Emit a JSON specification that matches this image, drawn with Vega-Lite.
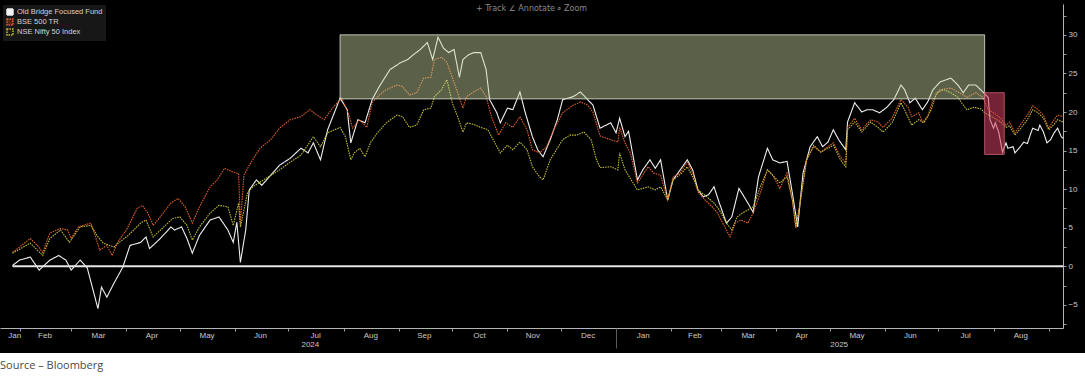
{
  "$schema": "https://vega.github.io/schema/vega-lite/v6.json",
  "background": "#000000",
  "padding": {"top": 4, "left": 0, "right": 0, "bottom": 0},
  "spacing": 0,
  "config": {"view": {"stroke": null}},
  "datasets": {
    "returns": [
{"date":"2024-01-28","series":"Old Bridge Focused Fund","value":0.1},
{"date":"2024-02-01","series":"Old Bridge Focused Fund","value":0.8},
{"date":"2024-02-07","series":"Old Bridge Focused Fund","value":1.2},
{"date":"2024-02-12","series":"Old Bridge Focused Fund","value":-0.5},
{"date":"2024-02-18","series":"Old Bridge Focused Fund","value":0.8},
{"date":"2024-02-23","series":"Old Bridge Focused Fund","value":1.4},
{"date":"2024-02-27","series":"Old Bridge Focused Fund","value":0.8},
{"date":"2024-03-01","series":"Old Bridge Focused Fund","value":-0.5},
{"date":"2024-03-06","series":"Old Bridge Focused Fund","value":0.8},
{"date":"2024-03-10","series":"Old Bridge Focused Fund","value":-0.2},
{"date":"2024-03-16","series":"Old Bridge Focused Fund","value":-5.5},
{"date":"2024-03-18","series":"Old Bridge Focused Fund","value":-2.7},
{"date":"2024-03-21","series":"Old Bridge Focused Fund","value":-4.0},
{"date":"2024-03-25","series":"Old Bridge Focused Fund","value":-2.2},
{"date":"2024-03-30","series":"Old Bridge Focused Fund","value":-0.1},
{"date":"2024-04-03","series":"Old Bridge Focused Fund","value":2.7},
{"date":"2024-04-09","series":"Old Bridge Focused Fund","value":3.1},
{"date":"2024-04-12","series":"Old Bridge Focused Fund","value":3.8},
{"date":"2024-04-14","series":"Old Bridge Focused Fund","value":2.3},
{"date":"2024-04-20","series":"Old Bridge Focused Fund","value":3.6},
{"date":"2024-04-26","series":"Old Bridge Focused Fund","value":5.1},
{"date":"2024-04-28","series":"Old Bridge Focused Fund","value":4.7},
{"date":"2024-05-02","series":"Old Bridge Focused Fund","value":5.1},
{"date":"2024-05-05","series":"Old Bridge Focused Fund","value":3.6},
{"date":"2024-05-08","series":"Old Bridge Focused Fund","value":1.7},
{"date":"2024-05-12","series":"Old Bridge Focused Fund","value":4.0},
{"date":"2024-05-18","series":"Old Bridge Focused Fund","value":6.0},
{"date":"2024-05-23","series":"Old Bridge Focused Fund","value":6.4},
{"date":"2024-05-28","series":"Old Bridge Focused Fund","value":4.7},
{"date":"2024-05-31","series":"Old Bridge Focused Fund","value":3.1},
{"date":"2024-06-02","series":"Old Bridge Focused Fund","value":5.7},
{"date":"2024-06-04","series":"Old Bridge Focused Fund","value":0.5},
{"date":"2024-06-07","series":"Old Bridge Focused Fund","value":4.7},
{"date":"2024-06-09","series":"Old Bridge Focused Fund","value":9.9},
{"date":"2024-06-13","series":"Old Bridge Focused Fund","value":11.2},
{"date":"2024-06-16","series":"Old Bridge Focused Fund","value":10.5},
{"date":"2024-06-21","series":"Old Bridge Focused Fund","value":11.8},
{"date":"2024-06-26","series":"Old Bridge Focused Fund","value":13.1},
{"date":"2024-07-02","series":"Old Bridge Focused Fund","value":14.0},
{"date":"2024-07-08","series":"Old Bridge Focused Fund","value":15.3},
{"date":"2024-07-12","series":"Old Bridge Focused Fund","value":14.7},
{"date":"2024-07-15","series":"Old Bridge Focused Fund","value":16.0},
{"date":"2024-07-19","series":"Old Bridge Focused Fund","value":13.8},
{"date":"2024-07-23","series":"Old Bridge Focused Fund","value":17.7},
{"date":"2024-07-30","series":"Old Bridge Focused Fund","value":21.8},
{"date":"2024-08-03","series":"Old Bridge Focused Fund","value":20.3},
{"date":"2024-08-05","series":"Old Bridge Focused Fund","value":16.0},
{"date":"2024-08-09","series":"Old Bridge Focused Fund","value":19.0},
{"date":"2024-08-13","series":"Old Bridge Focused Fund","value":18.6},
{"date":"2024-08-17","series":"Old Bridge Focused Fund","value":21.6},
{"date":"2024-08-21","series":"Old Bridge Focused Fund","value":23.3},
{"date":"2024-08-27","series":"Old Bridge Focused Fund","value":25.5},
{"date":"2024-09-02","series":"Old Bridge Focused Fund","value":26.4},
{"date":"2024-09-06","series":"Old Bridge Focused Fund","value":26.8},
{"date":"2024-09-09","series":"Old Bridge Focused Fund","value":27.4},
{"date":"2024-09-13","series":"Old Bridge Focused Fund","value":28.1},
{"date":"2024-09-17","series":"Old Bridge Focused Fund","value":29.0},
{"date":"2024-09-20","series":"Old Bridge Focused Fund","value":26.8},
{"date":"2024-09-23","series":"Old Bridge Focused Fund","value":29.7},
{"date":"2024-09-26","series":"Old Bridge Focused Fund","value":28.3},
{"date":"2024-09-29","series":"Old Bridge Focused Fund","value":27.7},
{"date":"2024-10-02","series":"Old Bridge Focused Fund","value":28.1},
{"date":"2024-10-05","series":"Old Bridge Focused Fund","value":24.5},
{"date":"2024-10-07","series":"Old Bridge Focused Fund","value":26.8},
{"date":"2024-10-10","series":"Old Bridge Focused Fund","value":27.4},
{"date":"2024-10-13","series":"Old Bridge Focused Fund","value":27.7},
{"date":"2024-10-17","series":"Old Bridge Focused Fund","value":27.7},
{"date":"2024-10-20","series":"Old Bridge Focused Fund","value":25.5},
{"date":"2024-10-22","series":"Old Bridge Focused Fund","value":21.6},
{"date":"2024-10-26","series":"Old Bridge Focused Fund","value":19.9},
{"date":"2024-10-28","series":"Old Bridge Focused Fund","value":18.6},
{"date":"2024-11-01","series":"Old Bridge Focused Fund","value":20.5},
{"date":"2024-11-04","series":"Old Bridge Focused Fund","value":20.3},
{"date":"2024-11-08","series":"Old Bridge Focused Fund","value":22.6},
{"date":"2024-11-11","series":"Old Bridge Focused Fund","value":19.9},
{"date":"2024-11-15","series":"Old Bridge Focused Fund","value":16.8},
{"date":"2024-11-18","series":"Old Bridge Focused Fund","value":15.1},
{"date":"2024-11-21","series":"Old Bridge Focused Fund","value":14.2},
{"date":"2024-11-25","series":"Old Bridge Focused Fund","value":16.4},
{"date":"2024-11-29","series":"Old Bridge Focused Fund","value":19.0},
{"date":"2024-12-02","series":"Old Bridge Focused Fund","value":21.6},
{"date":"2024-12-08","series":"Old Bridge Focused Fund","value":22.0},
{"date":"2024-12-12","series":"Old Bridge Focused Fund","value":22.6},
{"date":"2024-12-16","series":"Old Bridge Focused Fund","value":21.6},
{"date":"2024-12-19","series":"Old Bridge Focused Fund","value":20.9},
{"date":"2024-12-23","series":"Old Bridge Focused Fund","value":17.9},
{"date":"2024-12-29","series":"Old Bridge Focused Fund","value":18.6},
{"date":"2025-01-01","series":"Old Bridge Focused Fund","value":17.3},
{"date":"2025-01-03","series":"Old Bridge Focused Fund","value":19.2},
{"date":"2025-01-06","series":"Old Bridge Focused Fund","value":16.8},
{"date":"2025-01-08","series":"Old Bridge Focused Fund","value":17.5},
{"date":"2025-01-13","series":"Old Bridge Focused Fund","value":11.2},
{"date":"2025-01-16","series":"Old Bridge Focused Fund","value":12.5},
{"date":"2025-01-20","series":"Old Bridge Focused Fund","value":13.8},
{"date":"2025-01-23","series":"Old Bridge Focused Fund","value":12.7},
{"date":"2025-01-26","series":"Old Bridge Focused Fund","value":13.8},
{"date":"2025-01-30","series":"Old Bridge Focused Fund","value":8.6},
{"date":"2025-02-02","series":"Old Bridge Focused Fund","value":11.2},
{"date":"2025-02-06","series":"Old Bridge Focused Fund","value":12.5},
{"date":"2025-02-10","series":"Old Bridge Focused Fund","value":13.8},
{"date":"2025-02-13","series":"Old Bridge Focused Fund","value":12.5},
{"date":"2025-02-16","series":"Old Bridge Focused Fund","value":9.9},
{"date":"2025-02-19","series":"Old Bridge Focused Fund","value":9.0},
{"date":"2025-02-22","series":"Old Bridge Focused Fund","value":9.3},
{"date":"2025-02-25","series":"Old Bridge Focused Fund","value":10.3},
{"date":"2025-02-28","series":"Old Bridge Focused Fund","value":8.2},
{"date":"2025-03-04","series":"Old Bridge Focused Fund","value":5.6},
{"date":"2025-03-07","series":"Old Bridge Focused Fund","value":6.4},
{"date":"2025-03-11","series":"Old Bridge Focused Fund","value":10.1},
{"date":"2025-03-15","series":"Old Bridge Focused Fund","value":8.6},
{"date":"2025-03-19","series":"Old Bridge Focused Fund","value":7.0},
{"date":"2025-03-22","series":"Old Bridge Focused Fund","value":11.6},
{"date":"2025-03-27","series":"Old Bridge Focused Fund","value":15.3},
{"date":"2025-03-30","series":"Old Bridge Focused Fund","value":13.8},
{"date":"2025-04-03","series":"Old Bridge Focused Fund","value":13.4},
{"date":"2025-04-07","series":"Old Bridge Focused Fund","value":13.6},
{"date":"2025-04-10","series":"Old Bridge Focused Fund","value":9.5},
{"date":"2025-04-13","series":"Old Bridge Focused Fund","value":5.1},
{"date":"2025-04-16","series":"Old Bridge Focused Fund","value":12.1},
{"date":"2025-04-20","series":"Old Bridge Focused Fund","value":15.5},
{"date":"2025-04-24","series":"Old Bridge Focused Fund","value":16.8},
{"date":"2025-04-27","series":"Old Bridge Focused Fund","value":15.5},
{"date":"2025-04-30","series":"Old Bridge Focused Fund","value":16.1},
{"date":"2025-05-03","series":"Old Bridge Focused Fund","value":17.7},
{"date":"2025-05-06","series":"Old Bridge Focused Fund","value":16.4},
{"date":"2025-05-10","series":"Old Bridge Focused Fund","value":15.1},
{"date":"2025-05-11","series":"Old Bridge Focused Fund","value":18.7},
{"date":"2025-05-15","series":"Old Bridge Focused Fund","value":21.2},
{"date":"2025-05-19","series":"Old Bridge Focused Fund","value":20.0},
{"date":"2025-05-22","series":"Old Bridge Focused Fund","value":20.3},
{"date":"2025-05-25","series":"Old Bridge Focused Fund","value":20.3},
{"date":"2025-05-29","series":"Old Bridge Focused Fund","value":19.9},
{"date":"2025-06-02","series":"Old Bridge Focused Fund","value":20.6},
{"date":"2025-06-06","series":"Old Bridge Focused Fund","value":21.6},
{"date":"2025-06-10","series":"Old Bridge Focused Fund","value":23.5},
{"date":"2025-06-12","series":"Old Bridge Focused Fund","value":22.9},
{"date":"2025-06-15","series":"Old Bridge Focused Fund","value":21.2},
{"date":"2025-06-18","series":"Old Bridge Focused Fund","value":21.8},
{"date":"2025-06-22","series":"Old Bridge Focused Fund","value":20.3},
{"date":"2025-06-25","series":"Old Bridge Focused Fund","value":21.3},
{"date":"2025-06-28","series":"Old Bridge Focused Fund","value":22.9},
{"date":"2025-07-02","series":"Old Bridge Focused Fund","value":23.9},
{"date":"2025-07-08","series":"Old Bridge Focused Fund","value":24.4},
{"date":"2025-07-12","series":"Old Bridge Focused Fund","value":23.5},
{"date":"2025-07-15","series":"Old Bridge Focused Fund","value":22.5},
{"date":"2025-07-18","series":"Old Bridge Focused Fund","value":23.5},
{"date":"2025-07-22","series":"Old Bridge Focused Fund","value":23.5},
{"date":"2025-07-26","series":"Old Bridge Focused Fund","value":22.6},
{"date":"2025-07-29","series":"Old Bridge Focused Fund","value":21.9},
{"date":"2025-07-30","series":"Old Bridge Focused Fund","value":19.0},
{"date":"2025-08-01","series":"Old Bridge Focused Fund","value":17.9},
{"date":"2025-08-02","series":"Old Bridge Focused Fund","value":18.6},
{"date":"2025-08-04","series":"Old Bridge Focused Fund","value":17.3},
{"date":"2025-08-06","series":"Old Bridge Focused Fund","value":14.8},
{"date":"2025-08-08","series":"Old Bridge Focused Fund","value":16.0},
{"date":"2025-08-09","series":"Old Bridge Focused Fund","value":15.3},
{"date":"2025-08-12","series":"Old Bridge Focused Fund","value":15.5},
{"date":"2025-08-13","series":"Old Bridge Focused Fund","value":14.7},
{"date":"2025-08-16","series":"Old Bridge Focused Fund","value":15.5},
{"date":"2025-08-18","series":"Old Bridge Focused Fund","value":16.1},
{"date":"2025-08-20","series":"Old Bridge Focused Fund","value":15.9},
{"date":"2025-08-22","series":"Old Bridge Focused Fund","value":17.3},
{"date":"2025-08-23","series":"Old Bridge Focused Fund","value":17.9},
{"date":"2025-08-26","series":"Old Bridge Focused Fund","value":17.6},
{"date":"2025-08-27","series":"Old Bridge Focused Fund","value":18.3},
{"date":"2025-08-29","series":"Old Bridge Focused Fund","value":17.4},
{"date":"2025-08-31","series":"Old Bridge Focused Fund","value":16.0},
{"date":"2025-09-02","series":"Old Bridge Focused Fund","value":16.4},
{"date":"2025-09-04","series":"Old Bridge Focused Fund","value":17.3},
{"date":"2025-09-06","series":"Old Bridge Focused Fund","value":17.9},
{"date":"2025-09-08","series":"Old Bridge Focused Fund","value":16.8},
{"date":"2025-09-09","series":"Old Bridge Focused Fund","value":16.6},
{"date":"2024-01-28","series":"BSE 500 TR","value":1.8},
{"date":"2024-02-01","series":"BSE 500 TR","value":2.5},
{"date":"2024-02-07","series":"BSE 500 TR","value":3.6},
{"date":"2024-02-11","series":"BSE 500 TR","value":2.7},
{"date":"2024-02-14","series":"BSE 500 TR","value":1.8},
{"date":"2024-02-18","series":"BSE 500 TR","value":4.3},
{"date":"2024-02-24","series":"BSE 500 TR","value":4.9},
{"date":"2024-02-28","series":"BSE 500 TR","value":4.7},
{"date":"2024-03-01","series":"BSE 500 TR","value":3.6},
{"date":"2024-03-05","series":"BSE 500 TR","value":5.1},
{"date":"2024-03-12","series":"BSE 500 TR","value":5.6},
{"date":"2024-03-14","series":"BSE 500 TR","value":4.3},
{"date":"2024-03-17","series":"BSE 500 TR","value":2.1},
{"date":"2024-03-21","series":"BSE 500 TR","value":2.7},
{"date":"2024-03-24","series":"BSE 500 TR","value":1.4},
{"date":"2024-03-27","series":"BSE 500 TR","value":3.1},
{"date":"2024-04-01","series":"BSE 500 TR","value":4.7},
{"date":"2024-04-07","series":"BSE 500 TR","value":7.5},
{"date":"2024-04-10","series":"BSE 500 TR","value":7.9},
{"date":"2024-04-13","series":"BSE 500 TR","value":6.9},
{"date":"2024-04-16","series":"BSE 500 TR","value":5.3},
{"date":"2024-04-20","series":"BSE 500 TR","value":6.4},
{"date":"2024-04-26","series":"BSE 500 TR","value":8.2},
{"date":"2024-04-30","series":"BSE 500 TR","value":8.8},
{"date":"2024-05-04","series":"BSE 500 TR","value":7.7},
{"date":"2024-05-08","series":"BSE 500 TR","value":5.6},
{"date":"2024-05-12","series":"BSE 500 TR","value":7.7},
{"date":"2024-05-18","series":"BSE 500 TR","value":10.3},
{"date":"2024-05-22","series":"BSE 500 TR","value":11.2},
{"date":"2024-05-26","series":"BSE 500 TR","value":12.7},
{"date":"2024-05-31","series":"BSE 500 TR","value":12.2},
{"date":"2024-06-03","series":"BSE 500 TR","value":12.0},
{"date":"2024-06-04","series":"BSE 500 TR","value":5.6},
{"date":"2024-06-06","series":"BSE 500 TR","value":11.8},
{"date":"2024-06-09","series":"BSE 500 TR","value":13.1},
{"date":"2024-06-15","series":"BSE 500 TR","value":15.3},
{"date":"2024-06-21","series":"BSE 500 TR","value":16.4},
{"date":"2024-06-26","series":"BSE 500 TR","value":17.9},
{"date":"2024-07-02","series":"BSE 500 TR","value":19.0},
{"date":"2024-07-08","series":"BSE 500 TR","value":19.4},
{"date":"2024-07-13","series":"BSE 500 TR","value":20.3},
{"date":"2024-07-17","series":"BSE 500 TR","value":19.6},
{"date":"2024-07-21","series":"BSE 500 TR","value":19.0},
{"date":"2024-07-26","series":"BSE 500 TR","value":20.6},
{"date":"2024-07-31","series":"BSE 500 TR","value":21.8},
{"date":"2024-08-04","series":"BSE 500 TR","value":19.6},
{"date":"2024-08-06","series":"BSE 500 TR","value":17.9},
{"date":"2024-08-10","series":"BSE 500 TR","value":19.0},
{"date":"2024-08-14","series":"BSE 500 TR","value":18.0},
{"date":"2024-08-17","series":"BSE 500 TR","value":21.2},
{"date":"2024-08-21","series":"BSE 500 TR","value":22.2},
{"date":"2024-08-25","series":"BSE 500 TR","value":22.9},
{"date":"2024-08-31","series":"BSE 500 TR","value":23.5},
{"date":"2024-09-03","series":"BSE 500 TR","value":23.3},
{"date":"2024-09-07","series":"BSE 500 TR","value":22.2},
{"date":"2024-09-11","series":"BSE 500 TR","value":22.5},
{"date":"2024-09-15","series":"BSE 500 TR","value":24.4},
{"date":"2024-09-19","series":"BSE 500 TR","value":24.5},
{"date":"2024-09-21","series":"BSE 500 TR","value":26.8},
{"date":"2024-09-25","series":"BSE 500 TR","value":27.1},
{"date":"2024-09-28","series":"BSE 500 TR","value":26.4},
{"date":"2024-10-01","series":"BSE 500 TR","value":24.5},
{"date":"2024-10-04","series":"BSE 500 TR","value":22.5},
{"date":"2024-10-07","series":"BSE 500 TR","value":20.5},
{"date":"2024-10-09","series":"BSE 500 TR","value":22.0},
{"date":"2024-10-13","series":"BSE 500 TR","value":22.6},
{"date":"2024-10-17","series":"BSE 500 TR","value":23.1},
{"date":"2024-10-20","series":"BSE 500 TR","value":22.0},
{"date":"2024-10-23","series":"BSE 500 TR","value":19.4},
{"date":"2024-10-27","series":"BSE 500 TR","value":17.0},
{"date":"2024-10-31","series":"BSE 500 TR","value":18.6},
{"date":"2024-11-04","series":"BSE 500 TR","value":18.0},
{"date":"2024-11-08","series":"BSE 500 TR","value":19.4},
{"date":"2024-11-12","series":"BSE 500 TR","value":17.7},
{"date":"2024-11-15","series":"BSE 500 TR","value":15.1},
{"date":"2024-11-19","series":"BSE 500 TR","value":14.7},
{"date":"2024-11-23","series":"BSE 500 TR","value":15.5},
{"date":"2024-11-27","series":"BSE 500 TR","value":17.7},
{"date":"2024-12-02","series":"BSE 500 TR","value":19.9},
{"date":"2024-12-08","series":"BSE 500 TR","value":20.9},
{"date":"2024-12-12","series":"BSE 500 TR","value":21.3},
{"date":"2024-12-16","series":"BSE 500 TR","value":20.9},
{"date":"2024-12-19","series":"BSE 500 TR","value":20.0},
{"date":"2024-12-23","series":"BSE 500 TR","value":16.9},
{"date":"2024-12-29","series":"BSE 500 TR","value":16.4},
{"date":"2025-01-02","series":"BSE 500 TR","value":16.1},
{"date":"2025-01-03","series":"BSE 500 TR","value":18.0},
{"date":"2025-01-06","series":"BSE 500 TR","value":16.0},
{"date":"2025-01-09","series":"BSE 500 TR","value":14.7},
{"date":"2025-01-13","series":"BSE 500 TR","value":10.8},
{"date":"2025-01-19","series":"BSE 500 TR","value":12.9},
{"date":"2025-01-22","series":"BSE 500 TR","value":12.1},
{"date":"2025-01-26","series":"BSE 500 TR","value":11.8},
{"date":"2025-01-30","series":"BSE 500 TR","value":8.6},
{"date":"2025-02-02","series":"BSE 500 TR","value":11.6},
{"date":"2025-02-06","series":"BSE 500 TR","value":12.1},
{"date":"2025-02-10","series":"BSE 500 TR","value":13.5},
{"date":"2025-02-13","series":"BSE 500 TR","value":12.1},
{"date":"2025-02-16","series":"BSE 500 TR","value":9.6},
{"date":"2025-02-20","series":"BSE 500 TR","value":8.6},
{"date":"2025-02-24","series":"BSE 500 TR","value":7.7},
{"date":"2025-02-27","series":"BSE 500 TR","value":6.9},
{"date":"2025-03-03","series":"BSE 500 TR","value":5.1},
{"date":"2025-03-06","series":"BSE 500 TR","value":3.8},
{"date":"2025-03-09","series":"BSE 500 TR","value":5.6},
{"date":"2025-03-12","series":"BSE 500 TR","value":6.0},
{"date":"2025-03-16","series":"BSE 500 TR","value":5.6},
{"date":"2025-03-19","series":"BSE 500 TR","value":6.9},
{"date":"2025-03-23","series":"BSE 500 TR","value":9.5},
{"date":"2025-03-27","series":"BSE 500 TR","value":12.5},
{"date":"2025-03-30","series":"BSE 500 TR","value":11.8},
{"date":"2025-04-03","series":"BSE 500 TR","value":10.1},
{"date":"2025-04-07","series":"BSE 500 TR","value":12.1},
{"date":"2025-04-10","series":"BSE 500 TR","value":8.6},
{"date":"2025-04-12","series":"BSE 500 TR","value":4.9},
{"date":"2025-04-14","series":"BSE 500 TR","value":7.7},
{"date":"2025-04-18","series":"BSE 500 TR","value":13.8},
{"date":"2025-04-22","series":"BSE 500 TR","value":15.5},
{"date":"2025-04-26","series":"BSE 500 TR","value":14.8},
{"date":"2025-04-30","series":"BSE 500 TR","value":15.5},
{"date":"2025-05-03","series":"BSE 500 TR","value":16.0},
{"date":"2025-05-07","series":"BSE 500 TR","value":14.2},
{"date":"2025-05-10","series":"BSE 500 TR","value":13.4},
{"date":"2025-05-11","series":"BSE 500 TR","value":18.0},
{"date":"2025-05-15","series":"BSE 500 TR","value":19.2},
{"date":"2025-05-19","series":"BSE 500 TR","value":17.7},
{"date":"2025-05-24","series":"BSE 500 TR","value":19.0},
{"date":"2025-05-28","series":"BSE 500 TR","value":18.7},
{"date":"2025-05-31","series":"BSE 500 TR","value":18.0},
{"date":"2025-06-05","series":"BSE 500 TR","value":19.2},
{"date":"2025-06-10","series":"BSE 500 TR","value":21.6},
{"date":"2025-06-14","series":"BSE 500 TR","value":20.6},
{"date":"2025-06-16","series":"BSE 500 TR","value":19.4},
{"date":"2025-06-20","series":"BSE 500 TR","value":19.9},
{"date":"2025-06-22","series":"BSE 500 TR","value":18.7},
{"date":"2025-06-25","series":"BSE 500 TR","value":19.4},
{"date":"2025-06-28","series":"BSE 500 TR","value":21.6},
{"date":"2025-07-02","series":"BSE 500 TR","value":22.9},
{"date":"2025-07-08","series":"BSE 500 TR","value":23.1},
{"date":"2025-07-12","series":"BSE 500 TR","value":22.6},
{"date":"2025-07-17","series":"BSE 500 TR","value":21.9},
{"date":"2025-07-22","series":"BSE 500 TR","value":22.5},
{"date":"2025-07-26","series":"BSE 500 TR","value":21.9},
{"date":"2025-07-29","series":"BSE 500 TR","value":20.3},
{"date":"2025-08-01","series":"BSE 500 TR","value":19.9},
{"date":"2025-08-05","series":"BSE 500 TR","value":19.2},
{"date":"2025-08-08","series":"BSE 500 TR","value":18.3},
{"date":"2025-08-10","series":"BSE 500 TR","value":18.7},
{"date":"2025-08-13","series":"BSE 500 TR","value":17.3},
{"date":"2025-08-16","series":"BSE 500 TR","value":18.3},
{"date":"2025-08-20","series":"BSE 500 TR","value":19.6},
{"date":"2025-08-23","series":"BSE 500 TR","value":20.8},
{"date":"2025-08-26","series":"BSE 500 TR","value":20.3},
{"date":"2025-08-29","series":"BSE 500 TR","value":19.6},
{"date":"2025-09-01","series":"BSE 500 TR","value":17.9},
{"date":"2025-09-04","series":"BSE 500 TR","value":19.0},
{"date":"2025-09-06","series":"BSE 500 TR","value":19.6},
{"date":"2025-09-09","series":"BSE 500 TR","value":19.4},
{"date":"2024-01-28","series":"NSE Nifty 50 Index","value":1.7},
{"date":"2024-02-07","series":"NSE Nifty 50 Index","value":3.0},
{"date":"2024-02-14","series":"NSE Nifty 50 Index","value":1.4},
{"date":"2024-02-18","series":"NSE Nifty 50 Index","value":3.6},
{"date":"2024-02-24","series":"NSE Nifty 50 Index","value":4.7},
{"date":"2024-02-29","series":"NSE Nifty 50 Index","value":3.1},
{"date":"2024-03-06","series":"NSE Nifty 50 Index","value":5.1},
{"date":"2024-03-12","series":"NSE Nifty 50 Index","value":5.3},
{"date":"2024-03-16","series":"NSE Nifty 50 Index","value":3.8},
{"date":"2024-03-19","series":"NSE Nifty 50 Index","value":3.0},
{"date":"2024-03-25","series":"NSE Nifty 50 Index","value":2.5},
{"date":"2024-03-28","series":"NSE Nifty 50 Index","value":3.1},
{"date":"2024-04-02","series":"NSE Nifty 50 Index","value":4.0},
{"date":"2024-04-09","series":"NSE Nifty 50 Index","value":5.6},
{"date":"2024-04-12","series":"NSE Nifty 50 Index","value":6.0},
{"date":"2024-04-16","series":"NSE Nifty 50 Index","value":3.8},
{"date":"2024-04-22","series":"NSE Nifty 50 Index","value":5.1},
{"date":"2024-04-27","series":"NSE Nifty 50 Index","value":6.2},
{"date":"2024-05-01","series":"NSE Nifty 50 Index","value":6.4},
{"date":"2024-05-05","series":"NSE Nifty 50 Index","value":5.3},
{"date":"2024-05-08","series":"NSE Nifty 50 Index","value":3.4},
{"date":"2024-05-12","series":"NSE Nifty 50 Index","value":5.1},
{"date":"2024-05-18","series":"NSE Nifty 50 Index","value":6.9},
{"date":"2024-05-23","series":"NSE Nifty 50 Index","value":7.9},
{"date":"2024-05-28","series":"NSE Nifty 50 Index","value":7.7},
{"date":"2024-05-31","series":"NSE Nifty 50 Index","value":5.3},
{"date":"2024-06-03","series":"NSE Nifty 50 Index","value":8.2},
{"date":"2024-06-04","series":"NSE Nifty 50 Index","value":5.1},
{"date":"2024-06-08","series":"NSE Nifty 50 Index","value":9.5},
{"date":"2024-06-11","series":"NSE Nifty 50 Index","value":10.3},
{"date":"2024-06-17","series":"NSE Nifty 50 Index","value":11.2},
{"date":"2024-06-26","series":"NSE Nifty 50 Index","value":12.5},
{"date":"2024-07-02","series":"NSE Nifty 50 Index","value":13.5},
{"date":"2024-07-08","series":"NSE Nifty 50 Index","value":14.4},
{"date":"2024-07-15","series":"NSE Nifty 50 Index","value":16.8},
{"date":"2024-07-19","series":"NSE Nifty 50 Index","value":15.5},
{"date":"2024-07-23","series":"NSE Nifty 50 Index","value":17.3},
{"date":"2024-07-30","series":"NSE Nifty 50 Index","value":18.0},
{"date":"2024-08-02","series":"NSE Nifty 50 Index","value":16.8},
{"date":"2024-08-05","series":"NSE Nifty 50 Index","value":13.8},
{"date":"2024-08-07","series":"NSE Nifty 50 Index","value":14.7},
{"date":"2024-08-10","series":"NSE Nifty 50 Index","value":15.3},
{"date":"2024-08-13","series":"NSE Nifty 50 Index","value":14.2},
{"date":"2024-08-16","series":"NSE Nifty 50 Index","value":16.0},
{"date":"2024-08-20","series":"NSE Nifty 50 Index","value":17.3},
{"date":"2024-08-25","series":"NSE Nifty 50 Index","value":18.6},
{"date":"2024-08-31","series":"NSE Nifty 50 Index","value":19.6},
{"date":"2024-09-03","series":"NSE Nifty 50 Index","value":19.4},
{"date":"2024-09-07","series":"NSE Nifty 50 Index","value":18.0},
{"date":"2024-09-11","series":"NSE Nifty 50 Index","value":18.3},
{"date":"2024-09-15","series":"NSE Nifty 50 Index","value":20.3},
{"date":"2024-09-19","series":"NSE Nifty 50 Index","value":20.5},
{"date":"2024-09-21","series":"NSE Nifty 50 Index","value":22.0},
{"date":"2024-09-25","series":"NSE Nifty 50 Index","value":22.9},
{"date":"2024-09-28","series":"NSE Nifty 50 Index","value":24.2},
{"date":"2024-10-01","series":"NSE Nifty 50 Index","value":21.2},
{"date":"2024-10-04","series":"NSE Nifty 50 Index","value":19.4},
{"date":"2024-10-07","series":"NSE Nifty 50 Index","value":17.4},
{"date":"2024-10-09","series":"NSE Nifty 50 Index","value":18.6},
{"date":"2024-10-13","series":"NSE Nifty 50 Index","value":18.4},
{"date":"2024-10-17","series":"NSE Nifty 50 Index","value":18.0},
{"date":"2024-10-21","series":"NSE Nifty 50 Index","value":17.7},
{"date":"2024-10-24","series":"NSE Nifty 50 Index","value":16.4},
{"date":"2024-10-28","series":"NSE Nifty 50 Index","value":14.7},
{"date":"2024-11-01","series":"NSE Nifty 50 Index","value":15.7},
{"date":"2024-11-04","series":"NSE Nifty 50 Index","value":15.1},
{"date":"2024-11-08","series":"NSE Nifty 50 Index","value":16.1},
{"date":"2024-11-12","series":"NSE Nifty 50 Index","value":15.1},
{"date":"2024-11-15","series":"NSE Nifty 50 Index","value":12.9},
{"date":"2024-11-19","series":"NSE Nifty 50 Index","value":11.6},
{"date":"2024-11-21","series":"NSE Nifty 50 Index","value":11.2},
{"date":"2024-11-25","series":"NSE Nifty 50 Index","value":13.8},
{"date":"2024-11-29","series":"NSE Nifty 50 Index","value":15.3},
{"date":"2024-12-02","series":"NSE Nifty 50 Index","value":16.4},
{"date":"2024-12-06","series":"NSE Nifty 50 Index","value":17.0},
{"date":"2024-12-10","series":"NSE Nifty 50 Index","value":17.0},
{"date":"2024-12-14","series":"NSE Nifty 50 Index","value":17.4},
{"date":"2024-12-18","series":"NSE Nifty 50 Index","value":16.4},
{"date":"2024-12-21","series":"NSE Nifty 50 Index","value":13.8},
{"date":"2024-12-23","series":"NSE Nifty 50 Index","value":12.8},
{"date":"2024-12-29","series":"NSE Nifty 50 Index","value":12.9},
{"date":"2025-01-02","series":"NSE Nifty 50 Index","value":12.5},
{"date":"2025-01-03","series":"NSE Nifty 50 Index","value":14.7},
{"date":"2025-01-06","series":"NSE Nifty 50 Index","value":12.5},
{"date":"2025-01-13","series":"NSE Nifty 50 Index","value":9.9},
{"date":"2025-01-19","series":"NSE Nifty 50 Index","value":10.3},
{"date":"2025-01-23","series":"NSE Nifty 50 Index","value":9.9},
{"date":"2025-01-26","series":"NSE Nifty 50 Index","value":10.3},
{"date":"2025-01-30","series":"NSE Nifty 50 Index","value":8.6},
{"date":"2025-02-02","series":"NSE Nifty 50 Index","value":11.2},
{"date":"2025-02-07","series":"NSE Nifty 50 Index","value":12.1},
{"date":"2025-02-10","series":"NSE Nifty 50 Index","value":12.9},
{"date":"2025-02-13","series":"NSE Nifty 50 Index","value":11.6},
{"date":"2025-02-16","series":"NSE Nifty 50 Index","value":9.9},
{"date":"2025-02-21","series":"NSE Nifty 50 Index","value":9.0},
{"date":"2025-02-25","series":"NSE Nifty 50 Index","value":8.2},
{"date":"2025-02-28","series":"NSE Nifty 50 Index","value":7.3},
{"date":"2025-03-04","series":"NSE Nifty 50 Index","value":5.6},
{"date":"2025-03-07","series":"NSE Nifty 50 Index","value":4.7},
{"date":"2025-03-10","series":"NSE Nifty 50 Index","value":6.4},
{"date":"2025-03-13","series":"NSE Nifty 50 Index","value":6.9},
{"date":"2025-03-16","series":"NSE Nifty 50 Index","value":7.3},
{"date":"2025-03-19","series":"NSE Nifty 50 Index","value":7.7},
{"date":"2025-03-23","series":"NSE Nifty 50 Index","value":10.3},
{"date":"2025-03-27","series":"NSE Nifty 50 Index","value":12.5},
{"date":"2025-03-30","series":"NSE Nifty 50 Index","value":11.8},
{"date":"2025-04-03","series":"NSE Nifty 50 Index","value":10.8},
{"date":"2025-04-07","series":"NSE Nifty 50 Index","value":11.6},
{"date":"2025-04-10","series":"NSE Nifty 50 Index","value":8.6},
{"date":"2025-04-12","series":"NSE Nifty 50 Index","value":5.1},
{"date":"2025-04-14","series":"NSE Nifty 50 Index","value":7.7},
{"date":"2025-04-18","series":"NSE Nifty 50 Index","value":13.8},
{"date":"2025-04-22","series":"NSE Nifty 50 Index","value":15.7},
{"date":"2025-04-26","series":"NSE Nifty 50 Index","value":14.8},
{"date":"2025-04-30","series":"NSE Nifty 50 Index","value":15.3},
{"date":"2025-05-03","series":"NSE Nifty 50 Index","value":15.7},
{"date":"2025-05-07","series":"NSE Nifty 50 Index","value":13.8},
{"date":"2025-05-10","series":"NSE Nifty 50 Index","value":12.9},
{"date":"2025-05-11","series":"NSE Nifty 50 Index","value":17.7},
{"date":"2025-05-15","series":"NSE Nifty 50 Index","value":18.7},
{"date":"2025-05-19","series":"NSE Nifty 50 Index","value":17.4},
{"date":"2025-05-24","series":"NSE Nifty 50 Index","value":18.7},
{"date":"2025-05-28","series":"NSE Nifty 50 Index","value":18.0},
{"date":"2025-05-31","series":"NSE Nifty 50 Index","value":17.4},
{"date":"2025-06-05","series":"NSE Nifty 50 Index","value":18.6},
{"date":"2025-06-10","series":"NSE Nifty 50 Index","value":21.2},
{"date":"2025-06-12","series":"NSE Nifty 50 Index","value":20.3},
{"date":"2025-06-16","series":"NSE Nifty 50 Index","value":18.3},
{"date":"2025-06-20","series":"NSE Nifty 50 Index","value":19.0},
{"date":"2025-06-23","series":"NSE Nifty 50 Index","value":18.6},
{"date":"2025-06-27","series":"NSE Nifty 50 Index","value":20.3},
{"date":"2025-06-30","series":"NSE Nifty 50 Index","value":22.5},
{"date":"2025-07-04","series":"NSE Nifty 50 Index","value":22.9},
{"date":"2025-07-08","series":"NSE Nifty 50 Index","value":22.5},
{"date":"2025-07-12","series":"NSE Nifty 50 Index","value":21.9},
{"date":"2025-07-14","series":"NSE Nifty 50 Index","value":21.2},
{"date":"2025-07-17","series":"NSE Nifty 50 Index","value":20.3},
{"date":"2025-07-21","series":"NSE Nifty 50 Index","value":20.6},
{"date":"2025-07-25","series":"NSE Nifty 50 Index","value":20.4},
{"date":"2025-07-27","series":"NSE Nifty 50 Index","value":19.9},
{"date":"2025-07-31","series":"NSE Nifty 50 Index","value":19.4},
{"date":"2025-08-05","series":"NSE Nifty 50 Index","value":18.7},
{"date":"2025-08-08","series":"NSE Nifty 50 Index","value":18.0},
{"date":"2025-08-10","series":"NSE Nifty 50 Index","value":18.2},
{"date":"2025-08-13","series":"NSE Nifty 50 Index","value":17.0},
{"date":"2025-08-16","series":"NSE Nifty 50 Index","value":17.8},
{"date":"2025-08-20","series":"NSE Nifty 50 Index","value":19.0},
{"date":"2025-08-23","series":"NSE Nifty 50 Index","value":20.3},
{"date":"2025-08-26","series":"NSE Nifty 50 Index","value":19.9},
{"date":"2025-08-29","series":"NSE Nifty 50 Index","value":19.2},
{"date":"2025-09-01","series":"NSE Nifty 50 Index","value":17.7},
{"date":"2025-09-04","series":"NSE Nifty 50 Index","value":18.4},
{"date":"2025-09-06","series":"NSE Nifty 50 Index","value":19.0},
{"date":"2025-09-09","series":"NSE Nifty 50 Index","value":18.7}
    ]
  },
  "vconcat": [
    {
      "width": 1063,
      "height": 324,
      "title": {"text": "+ Track    ∠ Annotate    ⌕ Zoom", "orient": "top", "anchor": "middle", "offset": -9, "fontSize": 8, "font": "DejaVu Sans", "fontWeight": "normal", "color": "#8a8a8a"},
      "layer": [
        {
          "data": {"name": "returns"},
          "mark": {"type": "line", "strokeWidth": 1.1, "interpolate": "linear"},
          "encoding": {
            "x": {
              "field": "date", "type": "temporal",
              "scale": {"type": "utc", "domain": [{"year": 2024, "month": 1, "date": 21, "utc": true}, {"year": 2025, "month": 9, "date": 9, "utc": true}]},
              "axis": {
                "orient": "bottom", "title": null, "labels": false, "grid": false,
                "values": [
                  {"year": 2024, "month": 2, "date": 1, "utc": true}, {"year": 2024, "month": 3, "date": 1, "utc": true},
                  {"year": 2024, "month": 4, "date": 1, "utc": true}, {"year": 2024, "month": 5, "date": 1, "utc": true},
                  {"year": 2024, "month": 6, "date": 1, "utc": true}, {"year": 2024, "month": 7, "date": 1, "utc": true},
                  {"year": 2024, "month": 8, "date": 1, "utc": true}, {"year": 2024, "month": 9, "date": 1, "utc": true},
                  {"year": 2024, "month": 10, "date": 1, "utc": true}, {"year": 2024, "month": 11, "date": 1, "utc": true},
                  {"year": 2024, "month": 12, "date": 1, "utc": true}, {"year": 2025, "month": 1, "date": 1, "utc": true},
                  {"year": 2025, "month": 2, "date": 1, "utc": true}, {"year": 2025, "month": 3, "date": 1, "utc": true},
                  {"year": 2025, "month": 4, "date": 1, "utc": true}, {"year": 2025, "month": 5, "date": 1, "utc": true},
                  {"year": 2025, "month": 6, "date": 1, "utc": true}, {"year": 2025, "month": 7, "date": 1, "utc": true},
                  {"year": 2025, "month": 8, "date": 1, "utc": true}, {"year": 2025, "month": 9, "date": 1, "utc": true}
                ],
                "ticks": true, "tickSize": 3, "tickColor": "#9a9a9a", "domain": true, "domainColor": "#b4b4b4", "domainWidth": 1,
                "minExtent": 25, "maxExtent": 25
              }
            },
            "y": {
              "field": "value", "type": "quantitative",
              "scale": {"domain": [-8, 34], "nice": false, "zero": false},
              "axis": null
            },
            "color": {
              "field": "series", "type": "nominal",
              "scale": {"domain": ["Old Bridge Focused Fund", "BSE 500 TR", "NSE Nifty 50 Index"], "range": ["#f0f0f0", "#e2612b", "#c4bd34"]},
              "legend": {
                "title": null, "orient": "none", "legendX": 3, "legendY": 1,
                "fillColor": "#171717", "padding": 3, "symbolType": "square", "symbolSize": 36,
                "symbolStrokeWidth": 1.5, "labelFontSize": 7.5, "labelColor": "#d2d2d2", "labelFont": "Liberation Sans",
                "rowPadding": -3, "labelOffset": 3,
                "encode": {
                  "symbols": {
                    "update": {
                      "fill": {"signal": "datum.value === 'Old Bridge Focused Fund' ? '#f4f4f4' : datum.value === 'BSE 500 TR' ? '#5a230f' : 'transparent'"}
                    }
                  }
                }
              }
            },
            "strokeDash": {
              "field": "series", "type": "nominal",
              "scale": {"domain": ["Old Bridge Focused Fund", "BSE 500 TR", "NSE Nifty 50 Index"], "range": [[1, 0], [1.5, 1], [1.5, 1]]},
              "legend": null
            }
          }
        },
        {
          "data": {"values": [{"start": "2024-07-30", "end": "2025-07-27", "low": 21.7, "high": 30}]},
          "mark": {"type": "rect", "fill": "#c8d7a0", "fillOpacity": 0.45, "stroke": "#d6dcc8", "strokeWidth": 1, "strokeOpacity": 0.85},
          "encoding": {
            "x": {
              "field": "start", "type": "temporal",
              "scale": {"type": "utc", "domain": [{"year": 2024, "month": 1, "date": 21, "utc": true}, {"year": 2025, "month": 9, "date": 9, "utc": true}]},
              "axis": {
                "orient": "bottom", "title": null, "ticks": false, "domain": false, "grid": false,
                "values": [
                  {"year": 2024, "month": 1, "date": 29, "utc": true}, {"year": 2024, "month": 2, "date": 15, "utc": true},
                  {"year": 2024, "month": 3, "date": 16, "utc": true}, {"year": 2024, "month": 4, "date": 15, "utc": true},
                  {"year": 2024, "month": 5, "date": 16, "utc": true}, {"year": 2024, "month": 6, "date": 15, "utc": true},
                  {"year": 2024, "month": 7, "date": 16, "utc": true}, {"year": 2024, "month": 8, "date": 16, "utc": true},
                  {"year": 2024, "month": 9, "date": 15, "utc": true}, {"year": 2024, "month": 10, "date": 16, "utc": true},
                  {"year": 2024, "month": 11, "date": 15, "utc": true}, {"year": 2024, "month": 12, "date": 16, "utc": true},
                  {"year": 2025, "month": 1, "date": 16, "utc": true}, {"year": 2025, "month": 2, "date": 14, "utc": true},
                  {"year": 2025, "month": 3, "date": 16, "utc": true}, {"year": 2025, "month": 4, "date": 15, "utc": true},
                  {"year": 2025, "month": 5, "date": 16, "utc": true}, {"year": 2025, "month": 6, "date": 15, "utc": true},
                  {"year": 2025, "month": 7, "date": 16, "utc": true}, {"year": 2025, "month": 8, "date": 16, "utc": true}
                ],
                "labelExpr": "utcFormat(datum.value, '%b')",
                "labelFlush": false, "labelOverlap": false, "labelBound": false,
                "labelPadding": 3, "labelFontSize": 8, "labelColor": "#c8c8c8", "labelFont": "Liberation Sans",
                "minExtent": 25, "maxExtent": 25
              }
            },
            "x2": {"field": "end"},
            "y": {"field": "low", "type": "quantitative", "scale": {"domain": [-8, 34], "nice": false, "zero": false}, "axis": null},
            "y2": {"field": "high"}
          }
        },
        {
          "data": {"values": [{"start": "2025-07-27", "end": "2025-08-07", "low": 14.5, "high": 22.5}]},
          "mark": {"type": "rect", "fill": "#d2405e", "fillOpacity": 0.55, "stroke": "#c86478", "strokeWidth": 1, "strokeOpacity": 0.8},
          "encoding": {
            "x": {
              "field": "start", "type": "temporal",
              "scale": {"type": "utc", "domain": [{"year": 2024, "month": 1, "date": 21, "utc": true}, {"year": 2025, "month": 9, "date": 9, "utc": true}]},
              "axis": {
                "orient": "bottom", "title": null, "ticks": false, "domain": false, "grid": false,
                "values": [{"year": 2024, "month": 7, "date": 13, "utc": true}, {"year": 2025, "month": 5, "date": 6, "utc": true}],
                "labelExpr": "utcFormat(datum.value, '%Y')",
                "labelFlush": false, "labelOverlap": false, "labelBound": false,
                "labelPadding": 12, "labelFontSize": 8, "labelColor": "#c8c8c8", "labelFont": "Liberation Sans",
                "minExtent": 25, "maxExtent": 25
              }
            },
            "x2": {"field": "end"},
            "y": {"field": "low", "type": "quantitative", "scale": {"domain": [-8, 34], "nice": false, "zero": false}, "axis": null},
            "y2": {"field": "high"}
          }
        },
        {
          "data": {"values": [{"start": "2024-01-28", "end": "2025-09-09", "level": 0}]},
          "mark": {"type": "rule", "color": "#e6e6e6", "strokeWidth": 2},
          "encoding": {
            "x": {
              "field": "start", "type": "temporal",
              "scale": {"type": "utc", "domain": [{"year": 2024, "month": 1, "date": 21, "utc": true}, {"year": 2025, "month": 9, "date": 9, "utc": true}]},
              "axis": {
                "orient": "bottom", "title": null, "labels": false, "domain": false, "grid": false,
                "values": [{"year": 2025, "month": 1, "date": 1, "utc": true}],
                "ticks": true, "tickSize": 20, "tickColor": "#5a5a5a", "tickWidth": 1,
                "minExtent": 25, "maxExtent": 25
              }
            },
            "x2": {"field": "end"},
            "y": {
              "field": "level", "type": "quantitative",
              "scale": {"domain": [-8, 34], "nice": false, "zero": false},
              "axis": {
                "orient": "right", "title": null, "grid": false,
                "values": [-7.5, -5, -2.5, 0, 2.5, 5, 7.5, 10, 12.5, 15, 17.5, 20, 22.5, 25, 27.5, 30, 32.5],
                "labelExpr": "datum.value % 5 == 0 ? datum.label : ''",
                "tickSize": 3, "tickColor": "#9a9a9a", "domain": true, "domainColor": "#b4b4b4", "domainWidth": 1,
                "labels": true, "labelColor": "#c8c8c8", "labelFontSize": 8, "labelFont": "Liberation Sans", "labelPadding": 2,
                "minExtent": 22, "maxExtent": 22
              }
            }
          }
        }
      ],
      "resolve": {"axis": {"x": "independent", "y": "independent"}}
    },
    {
      "width": 1085,
      "height": 26,
      "data": {"values": [{"caption": "Source – Bloomberg"}]},
      "layer": [
        {
          "mark": {"type": "rect", "fill": "#ffffff", "stroke": null},
          "encoding": {}
        },
        {
          "mark": {"type": "text", "align": "left", "baseline": "middle", "font": "Open Sans", "fontSize": 11, "color": "#4a4a4a"},
          "encoding": {
            "text": {"field": "caption"},
            "x": {"value": 0},
            "y": {"value": 13}
          }
        }
      ]
    }
  ]
}
